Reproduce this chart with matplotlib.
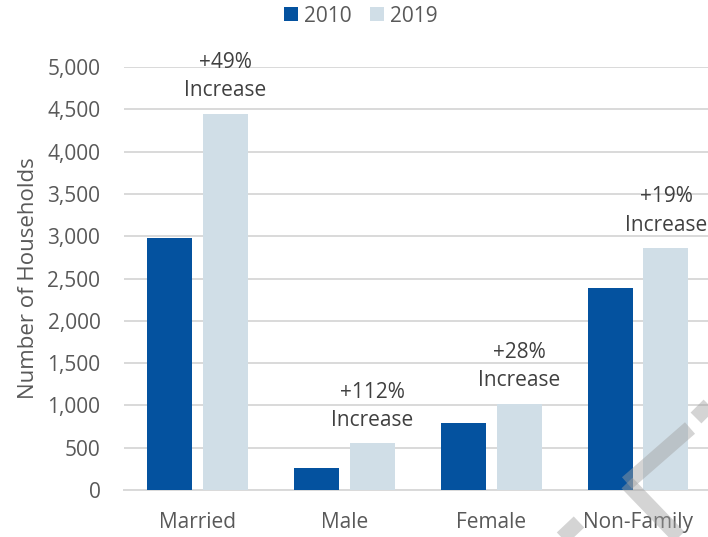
import matplotlib
matplotlib.use("Agg")
import matplotlib.pyplot as plt
from matplotlib.lines import Line2D
import numpy as np

categories = ["Married", "Male", "Female", "Non-Family"]
households_2010 = [2980, 260, 795, 2390]
households_2019 = [4450, 550, 1020, 2860]
increase_labels = ["+49%\nIncrease", "+112%\nIncrease", "+28%\nIncrease", "+19%\nIncrease"]
y_ticks = list(range(0, 5001, 500))

dark_blue = "#04529F"
light_blue = "#D0DEE7"
text_grey = "#595959"
grid_grey = "#D9D9D9"

plt.rcParams["font.family"] = ["Open Sans", "DejaVu Sans"]

W, H = 708, 537
fig = plt.figure(figsize=(W / 100, H / 100), dpi=100)
ax = fig.add_axes([124 / W, 1 - 490 / H, (711.5 - 124) / W, (490 - 67) / H])

x = np.arange(len(categories))
bw = 0.306
off = 0.19
ax.bar(x - off, households_2010, width=bw, color=dark_blue, label="2010", zorder=3)
bars19 = ax.bar(x + off, households_2019, width=bw, color=light_blue, label="2019", zorder=3)

# percentage note above each 2019 bar
for rect, lab in zip(bars19, increase_labels):
    ax.annotate(lab, (rect.get_x() + rect.get_width() / 2, rect.get_height()),
                xytext=(0, 9), textcoords="offset points", ha="center", va="bottom",
                fontsize=15, color="#404040", linespacing=1.45, zorder=4,
                annotation_clip=False)

ax.set_xlim(-0.5, 3.5)
ax.set_ylim(0, 5000)
ax.set_yticks(y_ticks)
ax.set_yticklabels([f"{v:,}" for v in y_ticks])
ax.set_xticks(x)
ax.set_xticklabels(categories)
ax.tick_params(axis="both", length=0, labelsize=15, colors=text_grey)
ax.tick_params(axis="x", pad=16)
ax.tick_params(axis="y", pad=17)
ax.grid(axis="y", color=grid_grey, linewidth=1.4, zorder=0)
for s in ["top", "right", "left"]:
    ax.spines[s].set_visible(False)
ax.spines["bottom"].set_color(grid_grey)
ax.spines["bottom"].set_linewidth(1.4)
ax.set_ylabel("Number of Households", fontsize=16, color=text_grey, labelpad=6)

fig.legend(loc="center", bbox_to_anchor=(361 / W, 1 - 16 / H), ncol=2, frameon=False,
           fontsize=15, labelcolor=text_grey, handlelength=0.67, handleheight=0.67,
           handletextpad=0.3, columnspacing=0.87)

# faint watermark strokes in the lower right corner
wm = dict(color="#A0A0A0", alpha=0.45, linewidth=11, solid_capstyle="butt")
for (x0, y0), (x1, y1) in [((690, 428), (627, 483)), ((627, 483), (679, 537)),
                           ((696, 418), (710, 404)), ((561, 539), (579, 522))]:
    fig.add_artist(Line2D([x0 / W, x1 / W], [1 - y0 / H, 1 - y1 / H],
                          transform=fig.transFigure, **wm))

fig.savefig("out.png", dpi=100)
